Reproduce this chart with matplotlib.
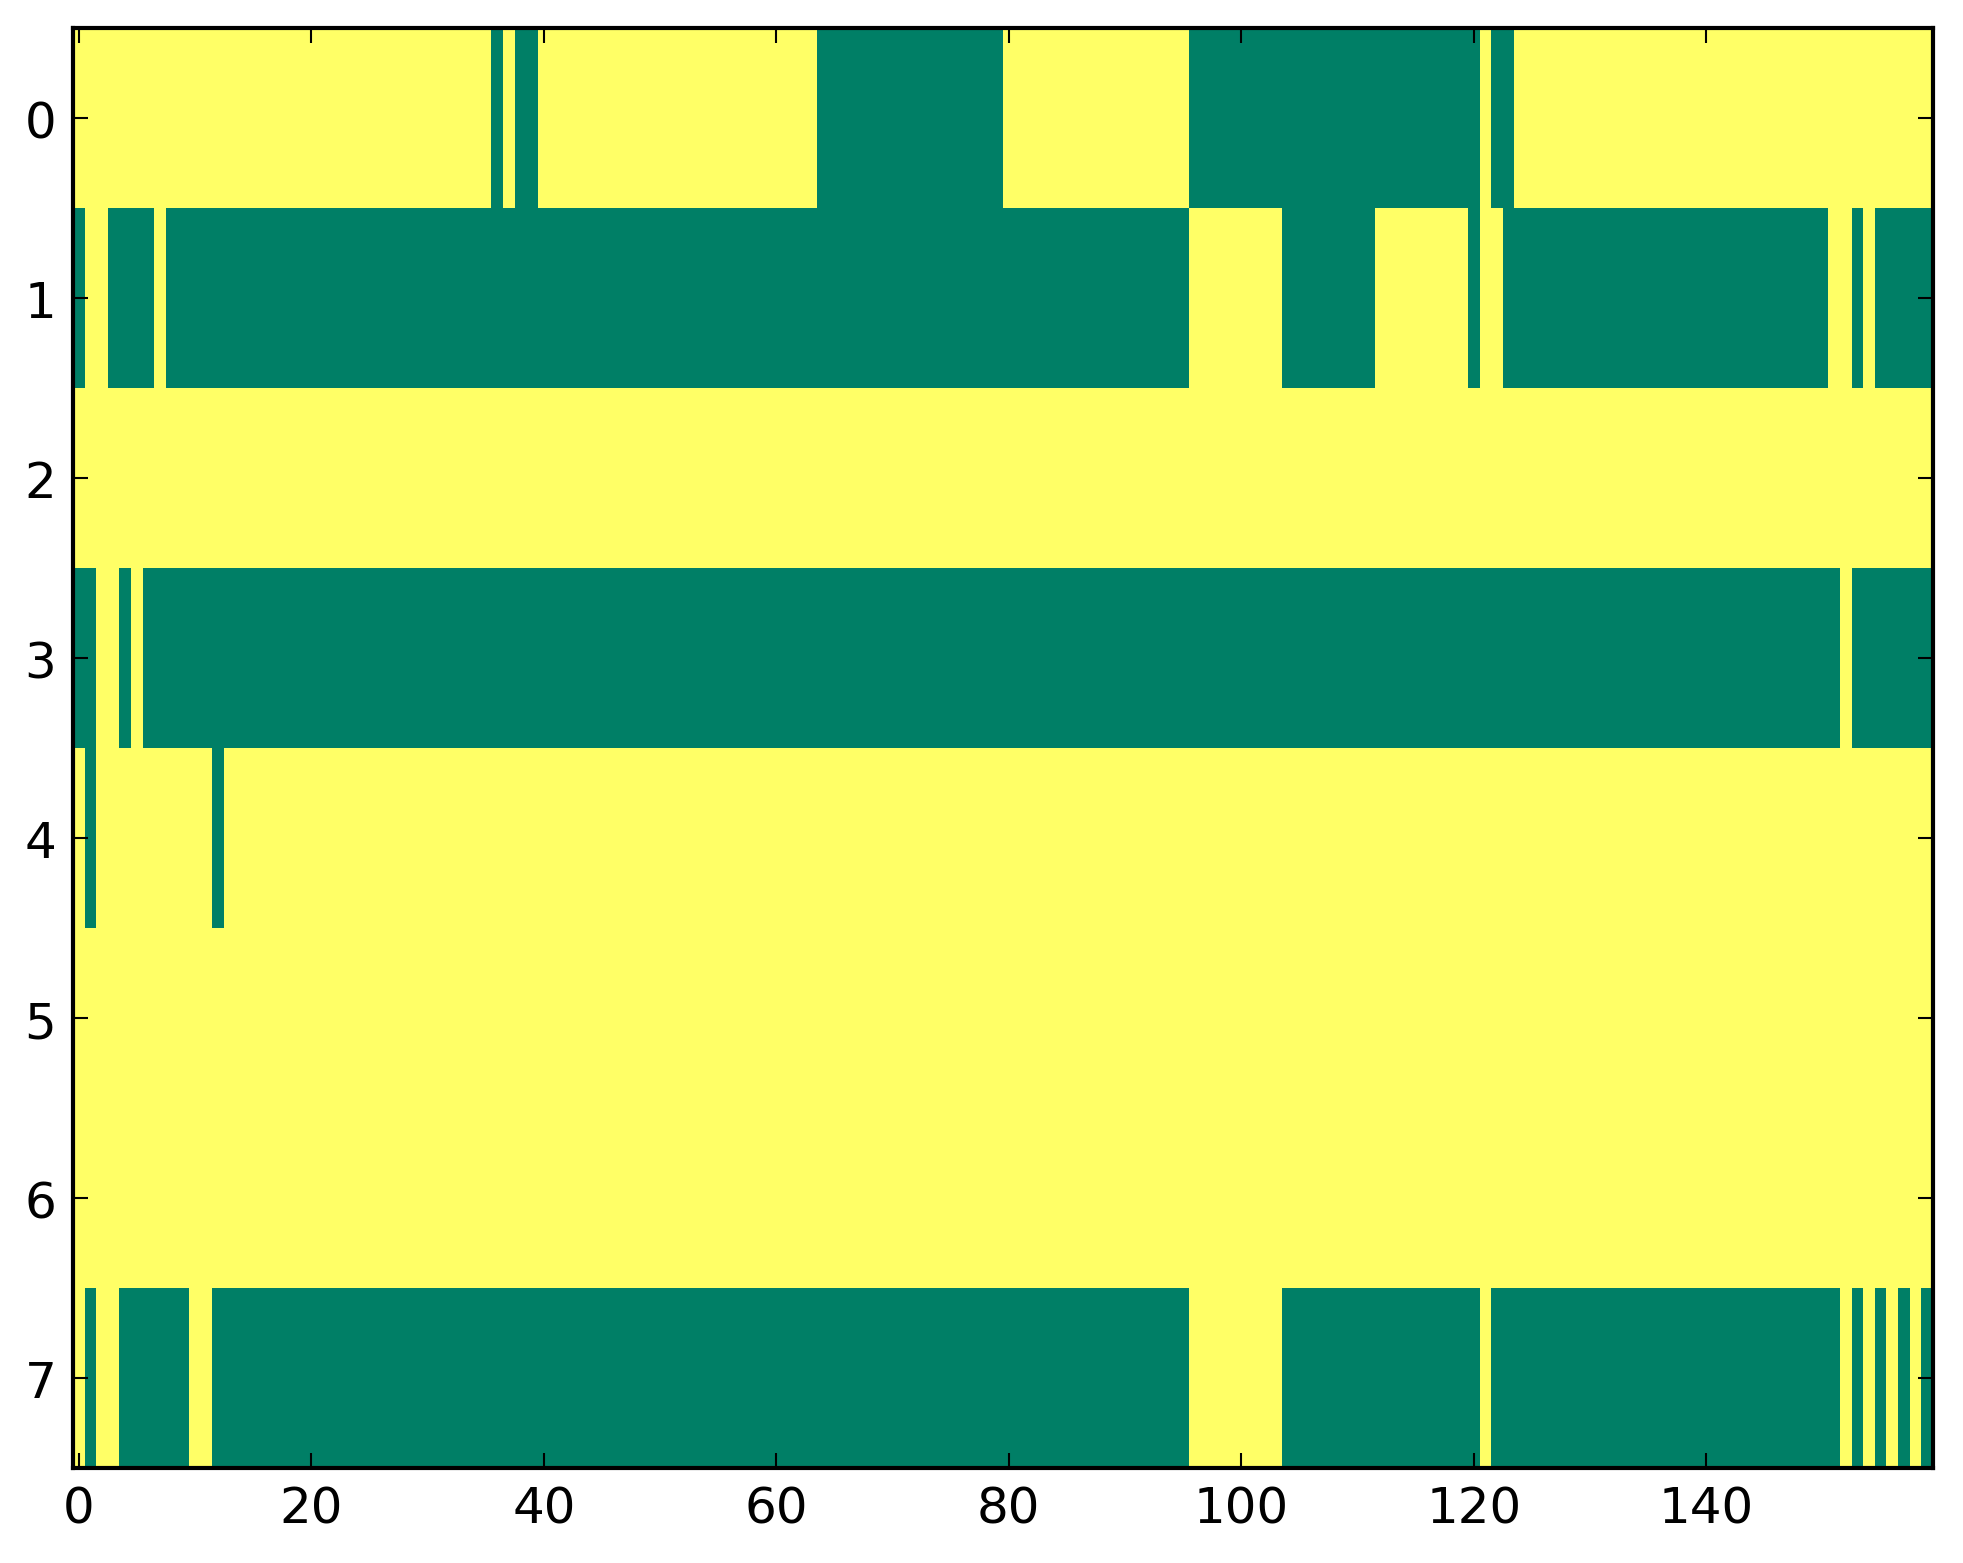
import numpy as np
import matplotlib
matplotlib.use("Agg")
import matplotlib.pyplot as plt

n_rows = 8
n_cols = 160

# columns holding 0 (green) in each row, as inclusive (start, end) runs; everything else is 1
row0_zero = [(36, 36), (38, 39), (64, 79), (96, 120), (122, 123)]
row1_zero = [(0, 0), (3, 6), (8, 95), (104, 111), (120, 120), (123, 150), (153, 153), (155, 159)]
row2_zero = []
row3_zero = [(0, 1), (4, 4), (6, 151), (153, 159)]
row4_zero = [(1, 1), (12, 12)]
row5_zero = []
row6_zero = []
row7_zero = [(1, 1), (4, 9), (12, 95), (104, 120), (122, 151), (153, 153), (155, 155),
             (157, 157), (159, 159)]

xticks = [0, 20, 40, 60, 80, 100, 120, 140]
yticks = list(range(n_rows))

rows = [row0_zero, row1_zero, row2_zero, row3_zero,
        row4_zero, row5_zero, row6_zero, row7_zero]

grid = np.ones((n_rows, n_cols))
for r, runs in enumerate(rows):
    for a, b in runs:
        grid[r, a:b + 1] = 0

plt.rcParams['font.family'] = ['DejaVu Sans']

fig = plt.figure(figsize=(1963 / 300, 1564 / 300), dpi=300)
ax = fig.add_axes([0.0372, 0.0607, 0.9475, 0.9207])
ax.imshow(grid, cmap='summer', vmin=0, vmax=1, aspect='auto', interpolation='nearest')

ax.set_xticks(xticks)
ax.set_yticks(yticks)
ax.tick_params(direction='in', length=3.6, width=0.5, labelsize=12, pad=4,
               top=True, right=True, labeltop=False, labelright=False)
for s in ax.spines.values():
    s.set_linewidth(1.0)

fig.savefig('out.png', dpi=300, facecolor='white')
